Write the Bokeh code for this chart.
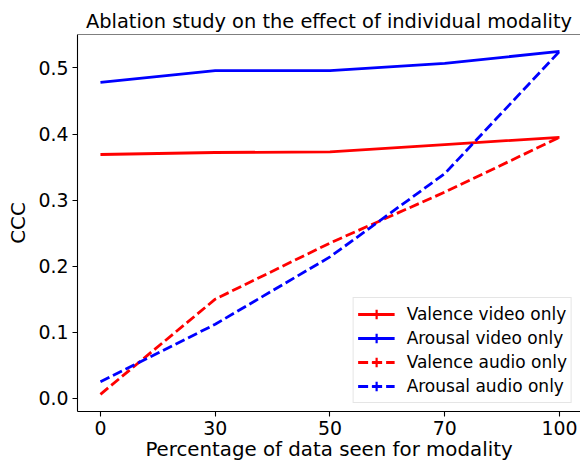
from bokeh.plotting import figure
from bokeh.models import (ColumnDataSource, FixedTicker, Span, Legend, LegendItem,
                          Range1d, PrintfTickFormatter)
from bokeh.embed import file_html
from bokeh.resources import INLINE

# ---- data ----
percent_labels = ["0", "30", "50", "70", "100"]
valence_video = [0.369, 0.372, 0.373, 0.384, 0.395]
arousal_video = [0.478, 0.496, 0.496, 0.507, 0.525]
valence_audio = [0.006, 0.150, 0.235, 0.312, 0.395]
arousal_audio = [0.025, 0.112, 0.214, 0.340, 0.525]
y_ticks = [0.0, 0.1, 0.2, 0.3, 0.4, 0.5]

series = [
    ("Valence video only", valence_video, "#ff0000", "solid"),
    ("Arousal video only", arousal_video, "#0000ff", "solid"),
    ("Valence audio only", valence_audio, "#ff0000", "10 4"),
    ("Arousal audio only", arousal_audio, "#0000ff", "10 4"),
]

FONT = "DejaVu Sans"
x_start, x_end = -0.2, 4.183
y_start, y_end = -0.020, 0.5506

p = figure(width=580, height=465,
           x_range=Range1d(x_start, x_end), y_range=Range1d(y_start, y_end),
           output_backend="svg", toolbar_location=None,
           min_border_left=77, min_border_right=0, min_border_top=34, min_border_bottom=54)

p.outline_line_color = None
p.xgrid.visible = False
p.ygrid.visible = False
p.background_fill_color = "white"
p.border_fill_color = "white"

p.title.text = "Ablation study on the effect of individual modality"
p.title.align = "center"
p.title.text_font = FONT
p.title.text_font_size = "19.4px"
p.title.text_font_style = "normal"
p.title.text_color = "black"
p.title.standoff = 4

for ax in (p.xaxis[0], p.yaxis[0]):
    ax.axis_line_width = 1.1
    ax.axis_line_color = "black"
    ax.major_tick_line_color = "black"
    ax.major_tick_line_width = 1.1
    ax.major_tick_out = 5
    ax.major_tick_in = 0
    ax.minor_tick_out = 0
    ax.minor_tick_in = 0
    ax.major_label_text_font = FONT
    ax.major_label_text_font_size = "18.9px"
    ax.major_label_text_color = "black"
    ax.major_label_standoff = 4
    ax.axis_label_text_font = FONT
    ax.axis_label_text_font_size = "19.8px"
    ax.axis_label_text_font_style = "normal"
    ax.axis_label_text_color = "black"
    ax.axis_label_standoff = 0

p.yaxis.axis_label_standoff = 5

xs = list(range(len(percent_labels)))
p.xaxis.ticker = FixedTicker(ticks=xs)
p.xaxis.major_label_overrides = {i: lab for i, lab in enumerate(percent_labels)}
p.xaxis.axis_label = "Percentage of data seen for modality"
p.yaxis.ticker = FixedTicker(ticks=y_ticks)
p.yaxis.formatter = PrintfTickFormatter(format="%.1f")
p.yaxis.axis_label = "CCC"
p.yaxis.major_label_orientation = "horizontal"

p.add_layout(Span(location=y_end, dimension="width", line_color="black", line_width=1.1))

items = []
for label, vals, color, dash in series:
    src = ColumnDataSource(dict(x=xs, y=vals))
    ln = p.line("x", "y", source=src, line_color=color, line_width=2.8, line_dash=dash)
    mk = p.scatter("x", "y", source=src, marker="cross", size=12, line_color=color,
                   line_width=2.2, visible=False)
    items.append(LegendItem(label=label, renderers=[ln, mk]))

legend = Legend(items=items, location="bottom_right", margin=8, padding=4,
                spacing=0, glyph_width=37, glyph_height=24, label_standoff=12,
                label_text_font=FONT, label_text_font_size="17px", label_text_color="black",
                background_fill_color="white", background_fill_alpha=0.8,
                border_line_color="#cccccc", border_line_width=1)
p.add_layout(legend)

open("out.html", "w").write(file_html(p, INLINE))
